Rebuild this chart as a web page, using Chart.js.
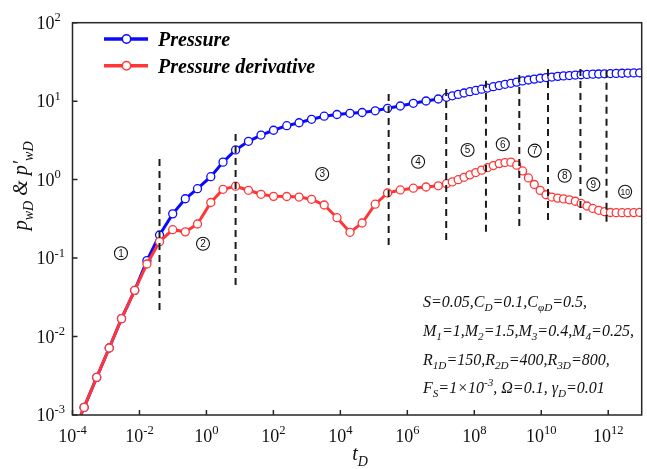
<!DOCTYPE html>
<html>
<head>
<meta charset="utf-8">
<script src="https://cdn.jsdelivr.net/npm/chart.js@4.4.1/dist/chart.umd.min.js"></script>
<style>
  html, body { margin: 0; padding: 0; background: #fff; }
  #wrap { width: 647px; height: 469px; }
</style>
</head>
<body>
<div id="wrap"><canvas id="typeCurve" width="647" height="469"></canvas></div>
<script>
// dimensionless time
const tD = [
  9.3e-5, 2.22e-4, 5.28e-4, 1.25e-3, 2.91e-3, 7.21e-3, 0.0167, 0.0398, 0.0984, 0.234,
  0.541, 1.35, 3.13, 7.43, 18.0, 42.7, 101, 251, 585, 1380,
  3290, 7940, 1.94e4, 4.47e4, 1.10e5, 2.57e5, 6.17e5, 1.51e6, 3.63e6, 8.41e6,
  1.48e7, 2.21e7, 3.31e7, 4.94e7, 7.40e7, 1.11e8, 1.66e8, 2.48e8, 3.70e8, 5.54e8,
  8.28e8, 1.24e9, 1.85e9, 2.77e9, 4.14e9, 6.19e9, 9.27e9, 1.39e10, 2.07e10, 3.10e10,
  4.63e10, 6.93e10, 1.04e11, 1.55e11, 2.32e11, 3.47e11, 5.19e11, 7.76e11, 1.16e12, 1.73e12,
  2.59e12, 3.88e12, 5.81e12, 8.67e12
];

// dimensionless pressure
const pwD = [
  5.2e-4, 1.25e-3, 3.02e-3, 7.14e-3, 0.0169, 0.0388, 0.0927, 0.197, 0.366, 0.570,
  0.766, 1.09, 1.67, 2.39, 3.08, 3.70, 4.26, 4.87, 5.31, 5.87,
  6.43, 6.76, 7.00, 7.17, 7.54, 8.11, 8.67, 9.39, 10.05, 10.66,
  11.2, 11.7, 12.2, 12.7, 13.2, 13.7, 14.2, 14.7, 15.3, 15.8,
  16.4, 16.9, 17.5, 18.1, 18.6, 19.1, 19.6, 20.0, 20.3, 20.7,
  21.0, 21.2, 21.5, 21.7, 21.9, 22.1, 22.2, 22.3, 22.5, 22.6,
  22.7, 22.8, 22.9, 23.0
];

// pressure derivative
const dpwD = [
  5.2e-4, 1.25e-3, 3.02e-3, 7.14e-3, 0.0169, 0.0388, 0.0841, 0.162, 0.230, 0.216,
  0.272, 0.511, 0.753, 0.824, 0.731, 0.650, 0.612, 0.609, 0.600, 0.561,
  0.475, 0.327, 0.213, 0.280, 0.486, 0.675, 0.738, 0.778, 0.805, 0.834,
  0.887, 0.935, 0.998, 1.07, 1.15, 1.23, 1.32, 1.42, 1.51, 1.60,
  1.65, 1.67, 1.53, 1.29, 1.05, 0.867, 0.729, 0.641, 0.600, 0.581,
  0.568, 0.553, 0.530, 0.497, 0.461, 0.429, 0.406, 0.390, 0.381, 0.379,
  0.379, 0.379, 0.380, 0.382
];

// flow-regime boundaries (dashed verticals)
const dividerT = [0.0397, 7.43, 2.77e5, 1.45e7, 2.23e8, 2.21e9, 1.59e10, 1.48e11, 8.9e11];
const dividerTop = [2.10, 4.29, 13.6, 16.1, 21.1, 24.4, 28.9, 28.9, 27.5];
const dividerBottom = [0.0218, 0.0454, 0.147, 0.170, 0.217, 0.257, 0.306, 0.306, 0.291];

// regime numbers
const regimeLabels = ['1', '2', '3', '4', '5', '6', '7', '8', '9', '10'];
const regimeT = [2.8e-3, 0.79, 2870, 2.1e6, 6.3e7, 7.1e8, 6.4e9, 5.0e10, 3.6e11, 3.2e12];
const regimeP = [0.115, 0.152, 1.18, 1.69, 2.39, 2.82, 2.34, 1.12, 0.87, 0.70];

// axis decades
const xTickPowers = [-4, -2, 0, 2, 4, 6, 8, 10, 12];
const yTickPowers = [-3, -2, -1, 0, 1, 2];

const seriesNames = ['Pressure', 'Pressure derivative'];

// model parameters, [text, 'sub' | 'sup' | '']
const paramLines = [
  [['S=0.05,C'], ['D', 'sub'], ['=0.1,C'], ['\u03c6D', 'sub'], ['=0.5,']],
  [['M'], ['1', 'sub'], ['=1,M'], ['2', 'sub'], ['=1.5,M'], ['3', 'sub'], ['=0.4,M'], ['4', 'sub'], ['=0.25,']],
  [['R'], ['1D', 'sub'], ['=150,R'], ['2D', 'sub'], ['=400,R'], ['3D', 'sub'], ['=800,']],
  [['F'], ['S', 'sub'], ['=1\u00d710'], ['-3', 'sup'], [', \u03a9=0.1, \u03b3'], ['D', 'sub'], ['=0.01']]
];

const SERIF = "'Liberation Serif', 'Times New Roman', serif";
const BLUE = '#0a0aff';
const RED = '#ff3636';

function richFont(style, size, kind) {
  const s = kind === 'sub' || kind === 'sup' ? size * 0.7 : size;
  return `${style} ${s}px ${SERIF}`;
}

function richWidth(ctx, parts, size, style) {
  let w = 0;
  parts.forEach(([txt, kind]) => {
    ctx.font = richFont(style, size, kind);
    w += ctx.measureText(txt).width;
  });
  return w;
}

function drawRich(ctx, parts, x, y, size, style) {
  let cx = x;
  parts.forEach(([txt, kind]) => {
    ctx.font = richFont(style, size, kind);
    const dy = kind === 'sub' ? size * 0.28 : kind === 'sup' ? -size * 0.42 : 0;
    ctx.fillText(txt, cx, y + dy);
    cx += ctx.measureText(txt).width;
  });
}

function powerParts(p) {
  return [['10'], [String(p), 'sup']];
}

const decorations = {
  id: 'decorations',
  afterDraw(chart) {
    const { ctx, chartArea: a } = chart;
    const xs = chart.scales.x, ys = chart.scales.y;
    ctx.save();

    // frame + inward ticks
    ctx.strokeStyle = '#262626';
    ctx.lineWidth = 1.5;
    ctx.strokeRect(a.left, a.top, a.right - a.left, a.bottom - a.top);
    ctx.beginPath();
    xTickPowers.forEach(p => {
      const px = xs.getPixelForValue(Math.pow(10, p));
      ctx.moveTo(px, a.bottom); ctx.lineTo(px, a.bottom - 5);
    });
    yTickPowers.forEach(p => {
      const py = ys.getPixelForValue(Math.pow(10, p));
      ctx.moveTo(a.left, py); ctx.lineTo(a.left + 5, py);
    });
    ctx.stroke();

    // tick labels
    ctx.fillStyle = '#111';
    ctx.textBaseline = 'alphabetic';
    ctx.textAlign = 'left';
    xTickPowers.forEach(p => {
      const parts = powerParts(p);
      const w = richWidth(ctx, parts, 18, 'normal');
      const px = xs.getPixelForValue(Math.pow(10, p));
      drawRich(ctx, parts, px - w / 2, a.bottom + 27, 18, 'normal');
    });
    yTickPowers.forEach(p => {
      const py = ys.getPixelForValue(Math.pow(10, p));
      ctx.font = `18px ${SERIF}`;
      const wb = ctx.measureText('10').width;
      drawRich(ctx, powerParts(p), a.left - 18 - wb, py + 6, 18, 'normal');
    });

    // axis titles
    const xt = [['t'], ['D', 'sub']];
    const xw = richWidth(ctx, xt, 20, 'italic');
    drawRich(ctx, xt, 360 - xw / 2, 460, 20, 'italic');

    const yt = [['p'], ['wD', 'sub'], [' & '], ['p\u2032'], ['wD', 'sub']];
    const yw = richWidth(ctx, yt, 20, 'italic');
    ctx.save();
    ctx.translate(27, (a.top + a.bottom) / 2 - 33);
    ctx.rotate(-Math.PI / 2);
    drawRich(ctx, yt, -yw / 2, 0, 20, 'italic');
    ctx.restore();

    // legend
    [BLUE, RED].forEach((c, i) => {
      const ly = 39 + i * 26.7;
      ctx.strokeStyle = c;
      ctx.lineWidth = 3.5;
      ctx.beginPath(); ctx.moveTo(104, ly); ctx.lineTo(148, ly); ctx.stroke();
      ctx.fillStyle = '#fff';
      ctx.lineWidth = 1.5;
      ctx.beginPath(); ctx.arc(126.5, ly, 4.2, 0, Math.PI * 2); ctx.fill(); ctx.stroke();
      ctx.fillStyle = '#000';
      ctx.font = `bold italic 20px ${SERIF}`;
      ctx.fillText(seriesNames[i], 158, ly + 7);
    });

    // model parameters
    ctx.fillStyle = '#111';
    const baselines = [307, 336, 364.5, 393];
    paramLines.forEach((line, i) => drawRich(ctx, line, 423, baselines[i], 16, 'italic'));

    // circled regime numbers
    ctx.strokeStyle = '#111';
    ctx.lineWidth = 1.1;
    ctx.textAlign = 'center';
    ctx.textBaseline = 'middle';
    regimeLabels.forEach((lab, i) => {
      const cx = xs.getPixelForValue(regimeT[i]);
      const cy = ys.getPixelForValue(regimeP[i]);
      ctx.beginPath(); ctx.arc(cx, cy, 6.5, 0, Math.PI * 2); ctx.stroke();
      ctx.font = lab.length > 1 ? "8.5px 'Liberation Sans', sans-serif" : "10px 'Liberation Sans', sans-serif";
      ctx.fillText(lab, cx, cy + 0.5);
    });
    ctx.restore();
  }
};

const dividerSets = dividerT.map((t, i) => ({
  data: [{ x: t, y: dividerBottom[i] }, { x: t, y: dividerTop[i] }],
  borderColor: '#1a1a1a',
  borderWidth: 2,
  borderDash: [7, 5],
  pointRadius: 0,
  order: 0
}));

// lower order is painted later, so the derivative sits above the pressure curve
function curve(name, values, color, order) {
  return {
    label: name,
    data: tD.map((t, i) => ({ x: t, y: values[i] })),
    borderColor: color,
    borderWidth: 3,
    pointRadius: 4,
    pointBorderWidth: 1.3,
    pointBorderColor: color,
    pointBackgroundColor: '#fff',
    tension: 0,
    order: order
  };
}

new Chart(document.getElementById('typeCurve'), {
  type: 'line',
  data: {
    datasets: [
      ...dividerSets,
      curve(seriesNames[1], dpwD, RED, 1),
      curve(seriesNames[0], pwD, BLUE, 2)
    ]
  },
  options: {
    responsive: false,
    animation: false,
    events: [],
    layout: { padding: { left: 72.5, right: 1.7, top: 22.7, bottom: 54 } },
    plugins: { legend: { display: false }, tooltip: { enabled: false } },
    scales: {
      x: { type: 'logarithmic', min: 1e-4, max: 1e13, display: false },
      y: { type: 'logarithmic', min: 1e-3, max: 1e2, display: false }
    }
  },
  plugins: [decorations]
});
</script>
</body>
</html>
